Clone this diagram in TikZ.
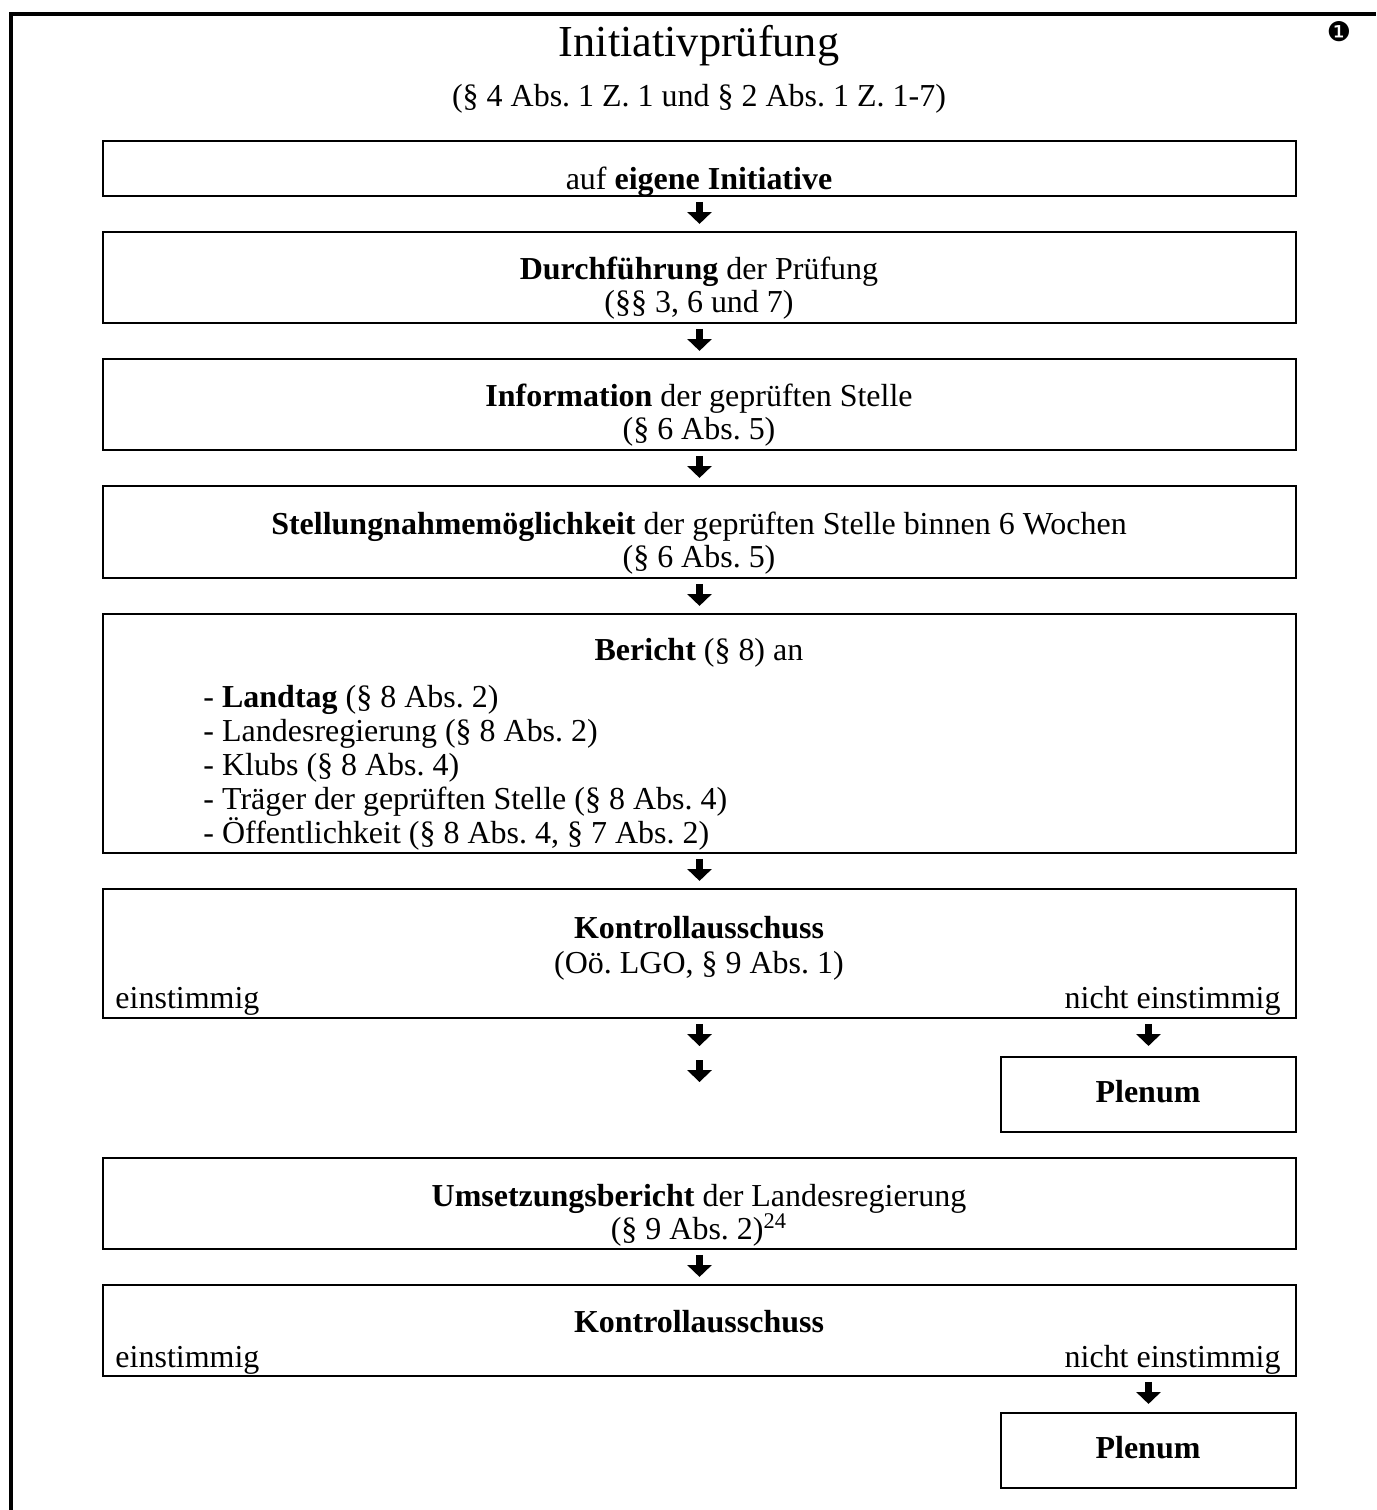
\documentclass[tikz,border=0pt]{standalone}
\usepackage{fontspec}
\setmainfont{Liberation Serif}
\newfontfamily\ziffernfont{DejaVu Sans}
\usetikzlibrary{arrows.meta,positioning,fit}
\frenchspacing

\begin{document}
\begin{tikzpicture}[
    x=0.4065pt, y=-0.4065pt,
    font=\fontsize{13}{14}\selectfont,
    box/.style={draw, line width=0.9pt, inner sep=0pt, outer sep=0pt},
    zeile/.style={anchor=base, inner sep=0pt},
    links/.style={anchor=base west, inner sep=0pt},
    rechts/.style={anchor=base east, inner sep=0pt},
    pfeil/.style={line width=2.9pt, -{Triangle[width=10pt,length=4.8pt,line width=0pt]},
                  shorten <=2.4pt, shorten >=3.3pt}
]
    \useasboundingbox (0,0) rectangle (1376,1510);
    \draw[line width=1.6pt] (11,1510) -- (11,14) -- (1376,14);

    \node[zeile, font=\fontsize{18}{22}\selectfont] (titel) at (699,57) {Initiativprüfung};
    \node[zeile] (titel_para) at (699,107) {(§ 4 Abs. 1 Z. 1 und § 2 Abs. 1 Z. 1-7)};
    \node[inner sep=0pt, font=\ziffernfont\fontsize{11}{12}\selectfont] (nummer) at (1339,32) {❶};

    \node[box, fit={(103,141) (1296,196)}] (initiative) {};
    \node[zeile] (initiative_text) at (699,190) {auf \textbf{eigene Initiative}};

    \node[box, fit={(103,232) (1296,323)}] (durchfuehrung) {};
    \node[zeile] (durchfuehrung_text) at (699,280) {\textbf{Durchführung} der Prüfung};
    \node[zeile] (durchfuehrung_para) at (699,313) {(§§ 3, 6 und 7)};

    \node[box, fit={(103,359) (1296,450)}] (information) {};
    \node[zeile] (information_text) at (699,407) {\textbf{Information} der geprüften Stelle};
    \node[zeile] (information_para) at (699,440) {(§ 6 Abs. 5)};

    \node[box, fit={(103,486) (1296,578)}] (stellungnahme) {};
    \node[zeile] (stellungnahme_text) at (699,534) {\textbf{Stellungnahmemöglichkeit} der geprüften Stelle binnen 6 Wochen};
    \node[zeile] (stellungnahme_para) at (699,567) {(§ 6 Abs. 5)};

    \node[box, fit={(103,614) (1296,853)}] (bericht) {};
    \node[zeile] (bericht_text) at (699,660) {\textbf{Bericht} (§ 8) an};
    \node[links] (an_landtag) at (203,707) {- \textbf{Landtag} (§ 8 Abs. 2)};
    \node[links] (an_regierung) at (203,741) {- Landesregierung (§ 8 Abs. 2)};
    \node[links] (an_klubs) at (203,775) {- Klubs (§ 8 Abs. 4)};
    \node[links] (an_traeger) at (203,809) {- Träger der geprüften Stelle (§ 8 Abs. 4)};
    \node[links] (an_oeffentlichkeit) at (203,843) {- Öffentlichkeit (§ 8 Abs. 4, § 7 Abs. 2)};

    \node[box, fit={(103,889) (1296,1018)}] (ausschuss) {};
    \node[zeile] (ausschuss_text) at (699,938) {\textbf{Kontrollausschuss}};
    \node[zeile] (ausschuss_para) at (699,973) {(Oö. LGO, § 9 Abs. 1)};
    \node[links] (ausschuss_ja) at (115,1008) {einstimmig};
    \node[rechts] (ausschuss_nein) at (1281,1008) {nicht einstimmig};

    \node[box, fit={(1001,1057) (1296,1132)}] (plenum) {};
    \node[zeile] (plenum_text) at (1148,1102) {\textbf{Plenum}};

    \node[box, fit={(103,1158) (1296,1249)}] (umsetzung) {};
    \node[zeile] (umsetzung_text) at (699,1206) {\textbf{Umsetzungsbericht} der Landesregierung};
    \node[zeile] (umsetzung_para) at (699,1239) {(§ 9 Abs. 2)\textsuperscript{24}};

    \node[box, fit={(103,1285) (1296,1376)}] (ausschuss_zwei) {};
    \node[zeile] (ausschuss_zwei_text) at (699,1332) {\textbf{Kontrollausschuss}};
    \node[links] (ausschuss_zwei_ja) at (115,1367) {einstimmig};
    \node[rechts] (ausschuss_zwei_nein) at (1281,1367) {nicht einstimmig};

    \node[box, fit={(1001,1413) (1296,1488)}] (plenum_zwei) {};
    \node[zeile] (plenum_zwei_text) at (1148,1458) {\textbf{Plenum}};

    \coordinate (mitte_a) at (699.5,1046);
    \coordinate (mitte_b) at (699.5,1060);
    \coordinate (mitte_c) at (699.5,1082);

    \draw[pfeil] (initiative) -- (durchfuehrung);
    \draw[pfeil] (durchfuehrung) -- (information);
    \draw[pfeil] (information) -- (stellungnahme);
    \draw[pfeil] (stellungnahme) -- (bericht);
    \draw[pfeil] (bericht) -- (ausschuss);
    \draw[pfeil, shorten >=0pt] (ausschuss) -- (mitte_a);
    \draw[pfeil, shorten <=0pt, shorten >=0pt] (mitte_b) -- (mitte_c);
    \draw[pfeil, shorten >=4.5pt] (ausschuss.south -| plenum.north) -- (plenum.north);
    \draw[pfeil] (umsetzung) -- (ausschuss_zwei);
    \draw[pfeil, shorten >=3.7pt] (ausschuss_zwei.south -| plenum_zwei.north) -- (plenum_zwei.north);
\end{tikzpicture}
\end{document}
